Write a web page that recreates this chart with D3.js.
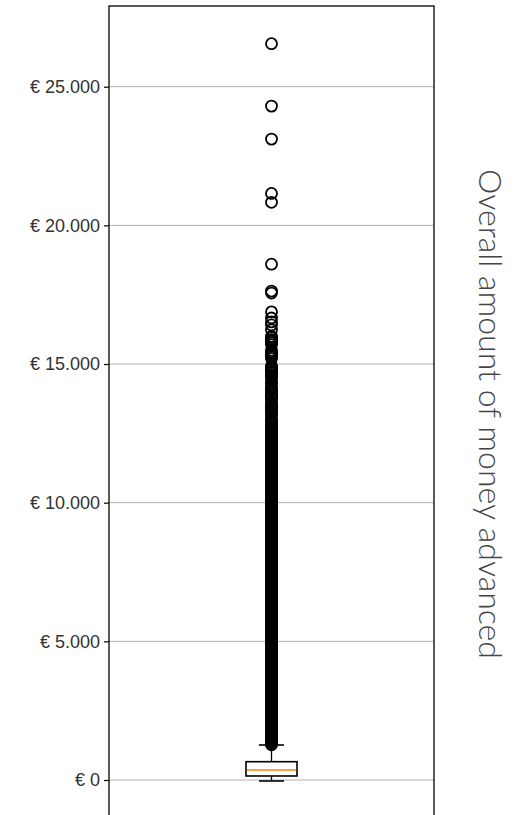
<!DOCTYPE html>
<html>
<head>
<meta charset="utf-8">
<script src="https://cdn.jsdelivr.net/npm/d3@7"></script>
<style>
    body { margin: 0; background: #fff; }
    .tick text { font-family: "Liberation Sans", Arial, sans-serif; }
</style>
</head>
<body>
<div id="chartContainer"></div>
<script>
// box statistics: whisker low, Q1, median, Q3, whisker high
const boxValues = [0, 145, 360, 660, 1262];

// outliers above the upper whisker (dense column)
const outliers = [
    1270, 1300, 1350, 1400, 1450, 1500, 1550, 1600, 1650, 1700, 1750,
    1800, 1850, 1900, 1950, 2000, 2050, 2100, 2150, 2200, 2250,
    2300, 2350, 2400, 2450, 2500, 2550, 2600, 2650, 2700, 2750,
    2800, 2850, 2900, 2950, 3000, 3050, 3100, 3150, 3200, 3250,
    3300, 3350, 3400, 3450, 3500, 3550, 3600, 3650, 3700, 3750,
    3800, 3850, 3900, 3950, 4000, 4050, 4100, 4150, 4200, 4250,
    4300, 4350, 4400, 4450, 4500, 4550, 4600, 4650, 4700, 4750,
    4800, 4850, 4900, 4950, 5000, 5050, 5100, 5150, 5200, 5250,
    5300, 5350, 5400, 5450, 5500, 5550, 5600, 5650, 5700, 5750,
    5800, 5850, 5900, 5950, 6000, 6050, 6100, 6150, 6200, 6250,
    6300, 6350, 6400, 6450, 6500, 6550, 6600, 6650, 6700, 6750,
    6800, 6850, 6900, 6950, 7000, 7050, 7100, 7150, 7200, 7250,
    7300, 7350, 7400, 7450, 7500, 7550, 7600, 7650, 7700, 7750,
    7800, 7850, 7900, 7950, 8000, 8050, 8100, 8150, 8200, 8250,
    8300, 8350, 8400, 8450, 8500, 8550, 8600, 8650, 8700, 8750,
    8800, 8850, 8900, 8950, 9000, 9050, 9100, 9150, 9200, 9250,
    9300, 9350, 9400, 9450, 9500, 9550, 9600, 9650, 9700, 9750,
    9800, 9850, 9900, 9950, 10000, 10050, 10100, 10150, 10200, 10250,
    10300, 10350, 10400, 10450, 10500, 10550, 10600, 10650, 10700, 10750,
    10800, 10850, 10900, 10950, 11000, 11050, 11100, 11150, 11200, 11250,
    11300, 11350, 11400, 11450, 11500, 11550, 11600, 11650, 11700, 11750,
    11800, 11850, 11900, 11950, 12000, 12050, 12100, 12150, 12200, 12250,
    12300, 12350, 12400, 12450, 12500, 12550, 12600, 12650, 12700, 12750,
    12800, 12850, 12900, 12950, 13000, 13090,
    13210, 13260, 13310, 13360, 13410, 13460, 13510, 13560, 13610,
    13730, 13780, 13830, 13880, 13920,
    14020, 14070, 14120, 14180,
    14300, 14360,
    14480, 14530, 14580, 14630, 14680, 14730, 14780, 14830, 14880, 14940,
    15200, 15260, 15320, 15380, 15440, 15500,
    15700, 15760, 15820, 15880, 15950, 16000,
    16230, 16410, 16520, 16660, 16880,
    17560, 17630, 18600, 20830, 21150, 23110, 24300, 26550
];

const yTicks = [0, 5000, 10000, 15000, 20000, 25000];
const yTickLabels = ["€ 0", "€ 5.000", "€ 10.000", "€ 15.000", "€ 20.000", "€ 25.000"];
const yLabel = "Overall amount of money advanced";

function init() {
    const width = 516;
    const height = 815;
    const plot = { left: 109, right: 434, top: 6, bottom: 840 };

    const svg = d3.select("#chartContainer").append("svg")
        .attr("width", width)
        .attr("height", height);

    // scales
    const x = d3.scaleLinear()
        .domain([0.5, 1.5])
        .range([plot.left, plot.right]);

    const y = d3.scaleLinear()
        .domain([0, 25000])
        .range([780, 86.7]);

    // gridlines
    svg.append("g")
        .selectAll("line")
        .data(yTicks)
        .enter()
        .append("line")
        .attr("x1", plot.left)
        .attr("x2", plot.right)
        .attr("y1", d => y(d))
        .attr("y2", d => y(d))
        .style("stroke", "#b0b0b0")
        .style("stroke-width", 1);

    // y axis
    const yAxis = d3.axisLeft(y)
        .tickValues(yTicks)
        .tickFormat((d, i) => yTickLabels[i])
        .tickSize(5)
        .tickPadding(4);

    const axisG = svg.append("g")
        .attr("transform", `translate(${plot.left}, 0)`)
        .call(yAxis);
    axisG.select(".domain").remove();
    axisG.selectAll(".tick line").style("stroke", "#000").style("stroke-width", 1.2);
    axisG.selectAll(".tick text")
        .style("font-size", "18px")
        .style("fill", "#333");

    // box plot
    const cx = 1;
    const boxW = 0.157;
    const capW = 0.077;
    const [wLow, q1, med, q3, wHigh] = boxValues;

    // whiskers
    svg.append("line")
        .attr("x1", x(cx)).attr("x2", x(cx))
        .attr("y1", y(q3)).attr("y2", y(wHigh))
        .style("stroke", "#000").style("stroke-width", 1.3);
    svg.append("line")
        .attr("x1", x(cx)).attr("x2", x(cx))
        .attr("y1", y(q1)).attr("y2", y(wLow))
        .style("stroke", "#000").style("stroke-width", 1.3);

    // caps
    [wLow, wHigh].forEach(v => {
        svg.append("line")
            .attr("x1", x(cx - capW / 2)).attr("x2", x(cx + capW / 2))
            .attr("y1", y(v) + (v === wLow ? 1 : 0)).attr("y2", y(v) + (v === wLow ? 1 : 0))
            .style("stroke", "#000").style("stroke-width", 1.6);
    });

    // box
    svg.append("rect")
        .attr("x", x(cx - boxW / 2))
        .attr("y", y(q3))
        .attr("width", x(cx + boxW / 2) - x(cx - boxW / 2))
        .attr("height", y(q1) - y(q3))
        .style("fill", "#fff")
        .style("stroke", "#000")
        .style("stroke-width", 1.6);

    // median
    svg.append("line")
        .attr("x1", x(cx - boxW / 2) + 1).attr("x2", x(cx + boxW / 2) - 1)
        .attr("y1", y(med)).attr("y2", y(med))
        .style("stroke", "#ff7f0e")
        .style("stroke-width", 1.6);

    // outliers
    svg.append("g")
        .selectAll("circle")
        .data(outliers)
        .enter()
        .append("circle")
        .attr("cx", x(cx))
        .attr("cy", d => y(d))
        .attr("r", 5.5)
        .style("fill", "none")
        .style("stroke", "#000")
        .style("stroke-width", 1.8);

    // spines
    svg.append("rect")
        .attr("x", plot.left)
        .attr("y", plot.top)
        .attr("width", plot.right - plot.left)
        .attr("height", plot.bottom - plot.top)
        .style("fill", "none")
        .style("stroke", "#000")
        .style("stroke-width", 1.3);

    // axis label on the right, rotated
    svg.append("text")
        .attr("transform", `translate(479, 414) rotate(90)`)
        .style("text-anchor", "middle")
        .style("font-family", "Lato, 'Open Sans', sans-serif")
        .style("font-weight", 300)
        .style("font-size", "32px")
        .style("fill", "#444")
        .text(yLabel);
}
window.onload = init;
</script>
</body>
</html>
